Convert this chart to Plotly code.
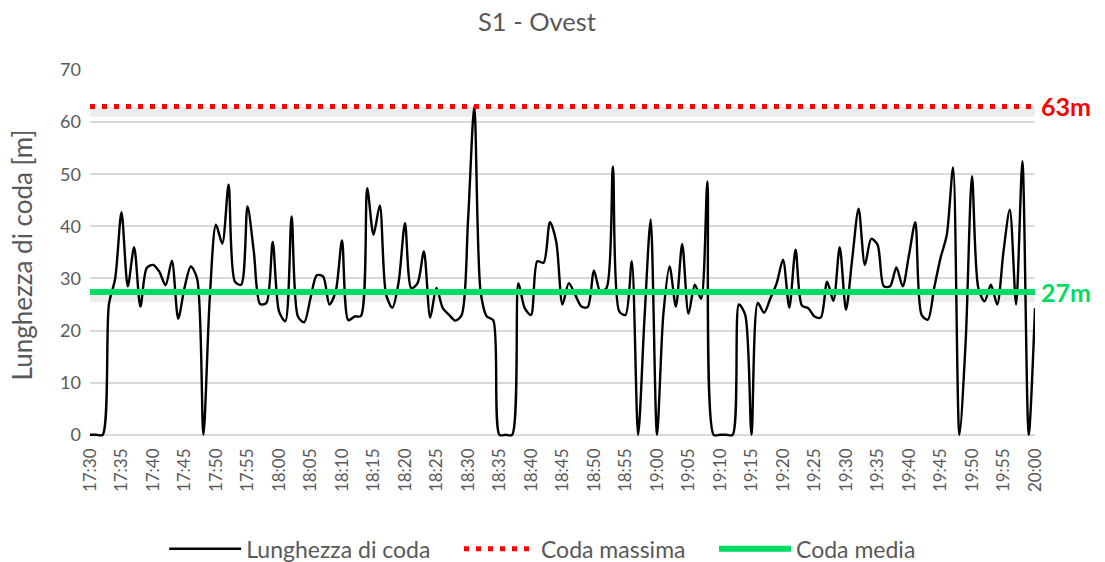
import pandas as pd
import plotly.graph_objects as go

# queue length, one reading per minute from 17:30 to 20:00
lunghezza = [
    0, 0, 0, 25, 30, 42.7, 28.5, 36, 24.6, 32,
    32.6, 31.3, 28.7, 33.4, 22.3, 28.2, 32.3, 30, 0, 26,
    40.3, 36.7, 48, 29.4, 28.8, 43.8, 35.2, 25.1, 25.3, 37,
    23.7, 21.8, 41.9, 22.7, 21.6, 26.2, 30.6, 30.4, 25, 27.5,
    37.3, 22, 22.7, 22.8, 47.3, 38.4, 44, 26.9, 24.4, 29.4,
    40.6, 28.1, 29.1, 35.2, 22.5, 28.2, 24.3, 23, 21.9, 23,
    41, 63, 27.5, 22.7, 22, 0, 0, 0, 29.1, 24.3,
    23, 33.3, 33, 40.8, 37.1, 25, 29.1, 26.9, 24.6, 24.5,
    31.5, 27.5, 28.2, 51.5, 23.7, 23, 33.3, 0, 22, 41.3,
    0, 23, 32.3, 24.6, 36.6, 23.2, 28.8, 26.1, 48.6, 0,
    0, 0, 0, 25, 23, 0, 25.3, 23.4, 26.2, 29.1,
    33.6, 24.4, 35.5, 24.8, 24.3, 22.7, 22.5, 29.4, 25.7, 36,
    24, 33.9, 43.4, 32.6, 37.6, 36.5, 28.5, 28.5, 32.1, 28.5,
    34.5, 40.8, 23, 22.1, 28.2, 33.9, 38.4, 51.3, 0, 18,
    49.6, 28.2, 25.6, 28.8, 25, 35.2, 43.2, 25, 52.5, 0,
    24.3,
]
orari = pd.date_range("2021-01-01 17:30", periods=len(lunghezza), freq="min")

coda_massima = 63
coda_media = 27.4
etichetta_max = "63m"
etichetta_media = "27m"

grigio = "#595959"
rosso = "#FF0000"
verde = "#00DC64"
font = "Lato"
pad = "\u00a0" * 4  # a little extra room between legend entries

fig = go.Figure()

# soft shadows under the two reference lines
for val in [coda_massima, coda_media]:
    fig.add_trace(go.Scatter(x=[orari[0], orari[-1]], y=[val - 1.0, val - 1.0],
                             mode="lines", line=dict(color="rgba(0,0,0,0.07)", width=10),
                             showlegend=False, hoverinfo="skip"))

fig.add_trace(go.Scatter(x=orari, y=lunghezza, mode="lines", name="Lunghezza di coda" + pad,
                         line=dict(color="black", width=2.4, shape="spline", smoothing=0.8)))
fig.add_trace(go.Scatter(x=[orari[0], orari[-1]], y=[coda_massima, coda_massima],
                         mode="lines", name="Coda massima" + pad,
                         line=dict(color=rosso, width=5, dash="5px,7px")))
fig.add_trace(go.Scatter(x=[orari[0], orari[-1]], y=[coda_media, coda_media],
                         mode="lines", name="Coda media",
                         line=dict(color=verde, width=6)))

fig.add_annotation(x=1, xref="paper", y=coda_massima, yref="y", text="<b>%s</b>" % etichetta_max,
                   showarrow=False, xanchor="left", xshift=4, font=dict(color=rosso, size=25, family=font))
fig.add_annotation(x=1, xref="paper", y=coda_media, yref="y", text="<b>%s</b>" % etichetta_media,
                   showarrow=False, xanchor="left", xshift=4, font=dict(color=verde, size=25, family=font))

fig.update_layout(
    width=1105, height=562,
    margin=dict(l=90, r=70, t=70, b=122, autoexpand=False),
    paper_bgcolor="white", plot_bgcolor="white",
    font=dict(family=font, color=grigio, size=17),
    title=dict(text="S1 - Ovest", x=0.486, xref="container", y=0.96, yanchor="middle",
               font=dict(size=25.5, color=grigio, family=font)),
    legend=dict(orientation="h", x=0.479, xanchor="center", y=-0.294, yanchor="middle",
                font=dict(size=23, color=grigio), traceorder="normal", itemwidth=72),
    showlegend=True,
)
fig.update_xaxes(range=[orari[0], orari[-1]], dtick=5 * 60 * 1000, tick0=orari[0],
                 tickformat="%H:%M", tickangle=-90, showgrid=False, zeroline=False,
                 ticks="", showline=False, automargin=False, ticklabelstandoff=4,
                 tickfont=dict(size=17, color=grigio))
fig.update_yaxes(range=[-1, 70], dtick=10, tick0=0, showgrid=True, gridcolor="#D9D9D9",
                 gridwidth=1.5, zeroline=False, showline=False, ticks="",
                 automargin=False, ticklabelstandoff=8,
                 title=dict(text="Lunghezza di coda [m]", standoff=20,
                            font=dict(size=26, color=grigio)),
                 tickfont=dict(size=18, color=grigio))

fig.write_html("out.html", config={"displayModeBar": False},
               post_script="document.body.style.margin='0';")
